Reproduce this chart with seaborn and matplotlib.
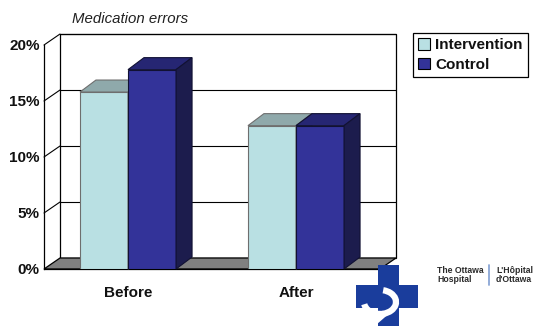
import numpy as np
import pandas as pd
import matplotlib
matplotlib.use("Agg")
import matplotlib.pyplot as plt
from matplotlib.patches import Polygon, Rectangle, Arc
import seaborn as sns

# Medication error rates (%) before and after the intervention
periods = ["Before", "After"]
groups = ["Intervention", "Control"]
intervention = [15.8, 12.8]
control = [17.8, 12.8]
y_ticks = [0, 5, 10, 15, 20]
y_tick_labels = ["0%", "5%", "10%", "15%", "20%"]

df = pd.DataFrame({
    "period": periods * 2,
    "group": [groups[0]] * len(periods) + [groups[1]] * len(periods),
    "rate": intervention + control,
})

front_colors = {"Intervention": "#B9E0E3", "Control": "#333399"}
top_colors = {"Intervention": "#8FA9AB", "Control": "#262673"}
side_colors = {"Intervention": "#7E9A9C", "Control": "#1C1C4D"}
edge_colors = {"Intervention": "#6E6E6E", "Control": "#111133"}

sns.set_theme(style="white")
plt.rcParams["font.family"] = ["Liberation Sans", "DejaVu Sans"]

W, H = 536, 326
fig = plt.figure(figsize=(W / 100, H / 100), dpi=100)
fig.patch.set_facecolor("white")

# front plane of the 3-D box, in pixels
x0, x1, y_bot, y_top = 44, 380, 269, 45
ax = fig.add_axes([x0 / W, (H - y_bot) / H, (x1 - x0) / W, (y_bot - y_top) / H])
ax.set_facecolor("none")

sns.barplot(data=df, x="period", y="rate", hue="group", order=periods,
            hue_order=groups, palette=front_colors, saturation=1,
            width=0.572, gap=0, ax=ax, legend=False)
ax.set_xlim(-0.5, 1.5)
ax.set_ylim(0, 20)

# pixel -> data scale factors
px_x = (x1 - x0) / 2.0
px_y = (y_bot - y_top) / 20.0
wall_dx, wall_dy = 16 / px_x, 11 / px_y
bar_dx, bar_dy = 16 / px_x, 12 / px_y

# back wall, floor and grid
ax.add_patch(Rectangle((-0.5 + wall_dx, wall_dy), 2.0, 20, facecolor="white",
                       edgecolor="black", lw=0.9, zorder=0.5, clip_on=False))
ax.add_patch(Polygon([(-0.5, 0), (1.5, 0), (1.5 + wall_dx, wall_dy),
                      (-0.5 + wall_dx, wall_dy)], closed=True,
                     facecolor="#808080", edgecolor="black", lw=0.9,
                     zorder=1, clip_on=False))
for v in y_ticks[1:]:
    ax.plot([-0.5 + wall_dx, 1.5 + wall_dx], [v + wall_dy, v + wall_dy],
            color="black", lw=0.8, zorder=1.5, clip_on=False)
    ax.plot([-0.5, -0.5 + wall_dx], [v, v + wall_dy],
            color="black", lw=0.8, zorder=1.5, clip_on=False)

# 3-D faces built on the seaborn bars
for k, (grp, cont) in enumerate(zip(groups, ax.containers)):
    z = 3 + 2 * k
    for bar in cont:
        bx, bw, bh = bar.get_x(), bar.get_width(), bar.get_height()
        bar.set_edgecolor(edge_colors[grp])
        bar.set_linewidth(0.8)
        bar.set_zorder(z)
        top = Polygon([(bx, bh), (bx + bw, bh), (bx + bw + bar_dx, bh + bar_dy),
                       (bx + bar_dx, bh + bar_dy)], closed=True,
                      facecolor=top_colors[grp], edgecolor=edge_colors[grp],
                      lw=0.8, zorder=z, clip_on=False)
        side = Polygon([(bx + bw, 0), (bx + bw + bar_dx, bar_dy),
                        (bx + bw + bar_dx, bh + bar_dy), (bx + bw, bh)],
                       closed=True, facecolor=side_colors[grp],
                       edgecolor=edge_colors[grp], lw=0.8, zorder=z,
                       clip_on=False)
        ax.add_patch(top)
        ax.add_patch(side)

# axes styling
for s in ["top", "right"]:
    ax.spines[s].set_visible(False)
for s in ["left", "bottom"]:
    ax.spines[s].set_color("black")
    ax.spines[s].set_linewidth(0.9)
    ax.spines[s].set_zorder(2)
ax.set_yticks(y_ticks)
ax.set_yticklabels(y_tick_labels, fontsize=11, fontweight="bold")
ax.set_xticks(range(len(periods)))
ax.set_xticklabels(periods, fontsize=11, fontweight="bold")
ax.set_xticks([-0.5, 0.5, 1.5], minor=True)
ax.tick_params(axis="y", length=0, pad=3, labelcolor="#111111")
ax.tick_params(axis="x", which="major", length=0, pad=12, labelcolor="#111111")
ax.tick_params(axis="x", which="minor", length=4, width=0.9, color="black",
               direction="out")
ax.set_xlabel("")
ax.set_ylabel("")

fig.text(72 / W, 1 - 19 / H, "Medication errors", fontsize=10.8,
         fontstyle="italic", ha="left", va="center", color="#222222")

handles = [Rectangle((0, 0), 1, 1, facecolor=front_colors[g], edgecolor="black",
                     lw=0.8) for g in groups]
leg = fig.legend(handles, groups, loc="upper right",
                 bbox_to_anchor=(528 / W, 1 - 33 / H), frameon=True,
                 fancybox=False, framealpha=1, edgecolor="black",
                 prop={"size": 11, "weight": "bold"}, handlelength=0.75,
                 handleheight=0.75, handletextpad=0.35, labelspacing=0.35,
                 borderpad=0.35, borderaxespad=0)
leg.get_frame().set_linewidth(0.9)
for t in leg.get_texts():
    t.set_color("#111111")

# hospital logo
ov = fig.add_axes([0, 0, 1, 1])
ov.set_xlim(0, W)
ov.set_ylim(H, 0)
ov.axis("off")
ov.set_zorder(10)
blue = "#1A3D9C"
ov.add_patch(Rectangle((378, 265), 21, 61, facecolor=blue, edgecolor="none"))
ov.add_patch(Rectangle((356, 285), 62, 23, facecolor=blue, edgecolor="none"))
ov.add_patch(Arc((380, 302), 32, 24, theta1=-75, theta2=172, color="white",
                 lw=4.5))
ov.plot([385, 370], [313, 326], color="white", lw=4.5, solid_capstyle="butt")
logo_font = ["Liberation Sans Narrow", "Liberation Sans", "DejaVu Sans"]
ov.text(437, 275, "The Ottawa\nHospital", fontsize=6.2, fontweight="bold",
        family=logo_font, color="#2A2A2A", ha="left", va="center",
        linespacing=1.1)
ov.plot([489, 489], [265, 285], color="#8AA6D6", lw=1.3)
ov.text(496, 275, "L'Hôpital\nd'Ottawa", fontsize=6.2, fontweight="bold",
        family=logo_font, color="#2A2A2A", ha="left", va="center",
        linespacing=1.1)

fig.savefig("out.png", dpi=100, facecolor="white")
